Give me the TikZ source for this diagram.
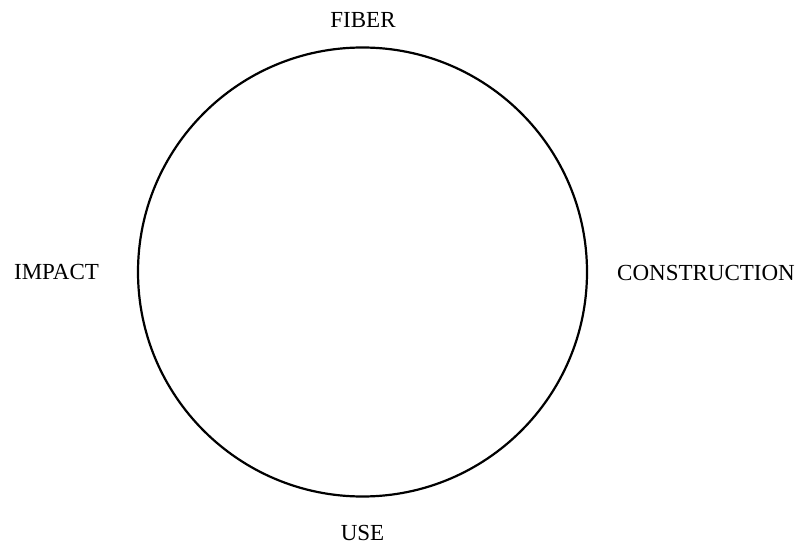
\documentclass[tikz,border=0pt]{standalone}
\usepackage{fontspec}
\setmainfont{Liberation Serif}
\usetikzlibrary{positioning}

\begin{document}
\begin{tikzpicture}[x=1pt, y=-1pt, line width=2.2pt]
        \useasboundingbox (0,0) rectangle (799,545);
        \tikzset{stage/.style={font=\fontsize{23}{26}\selectfont, inner sep=0pt}}

        % The ring
        \node[draw, circle, minimum size=449pt, inner sep=0pt] (ring) at (362.5,272) {};

        % Labels round the ring
        \node[stage] (fiber) at (363,20) {FIBER};
        \node[stage] (construction) at (706,273) {CONSTRUCTION};
        \node[stage] (use) at (362.5,533) {USE};
        \node[stage] (impact) at (56.5,272) {IMPACT};
    \end{tikzpicture}
\end{document}
